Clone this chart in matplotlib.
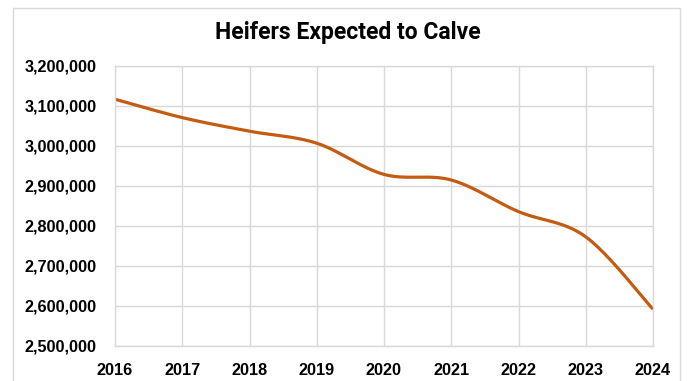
import matplotlib
matplotlib.use('agg')
import matplotlib.pyplot as plt
import numpy as np
from matplotlib.patches import Rectangle
from matplotlib.ticker import FuncFormatter

# data
years = [2016, 2017, 2018, 2019, 2020, 2021, 2022, 2023, 2024]
heifers = [3117000, 3071000, 3037000, 3007000, 2929000, 2915000, 2836000, 2773000, 2592000]
y_ticks = [2500000, 2600000, 2700000, 2800000, 2900000, 3000000, 3100000, 3200000]


# Excel-style smoothed line: cubic bezier segments with catmull-rom control points
def smooth_line(x, y, n=40):
    pts = np.column_stack([x, y]).astype(float)
    padded = np.vstack([pts[0], pts, pts[-1]])
    out = []
    t = np.linspace(0, 1, n)[:, None]
    for i in range(len(pts) - 1):
        p0, p1 = padded[i + 1], padded[i + 2]
        c1 = p0 + (padded[i + 2] - padded[i]) / 6
        c2 = p1 - (padded[i + 3] - padded[i + 1]) / 6
        seg = ((1 - t) ** 3) * p0 + 3 * ((1 - t) ** 2) * t * c1 + 3 * (1 - t) * t ** 2 * c2 + t ** 3 * p1
        out.append(seg if i == 0 else seg[1:])
    seg = np.vstack(out)
    return seg[:, 0], seg[:, 1]


W, H = 691, 381
fig = plt.figure(figsize=(W / 100, H / 100), dpi=100)
ax = fig.add_axes([115 / W, 1 - 346 / H, (653 - 115) / W, (346 - 66) / H])

# chart border
fig.patches.append(Rectangle((13 / W, -0.05), (680 - 13) / W, 1.05 - 8 / H,
                             transform=fig.transFigure, fill=False,
                             edgecolor='#D9D9D9', linewidth=1))

sx, sy = smooth_line(years, heifers)
ax.plot(sx, sy, color='#C55A11', linewidth=2.3, solid_capstyle='butt')

ax.set_xlim(years[0], years[-1])
ax.set_ylim(y_ticks[0], y_ticks[-1])
ax.set_xticks(years)
ax.set_yticks(y_ticks)
ax.yaxis.set_major_formatter(FuncFormatter(lambda v, p: f'{int(v):,}'))
ax.grid(True, color='#D9D9D9', linewidth=1)
ax.set_axisbelow(True)
for s in ax.spines.values():
    s.set_color('#D9D9D9')
    s.set_linewidth(1)
ax.tick_params(length=0)
ax.tick_params(axis='y', pad=13)
ax.tick_params(axis='x', pad=12)
for lab in ax.get_xticklabels() + ax.get_yticklabels():
    lab.set_fontfamily('Liberation Sans')
    lab.set_fontweight('bold')
    lab.set_fontsize(11.7)
    lab.set_color('black')

fig.text(348 / W, 1 - 33 / H, 'Heifers Expected to Calve', ha='center', va='center',
         fontsize=16.5, fontweight='bold', family='Roboto')

fig.savefig('out.png', dpi=100)
